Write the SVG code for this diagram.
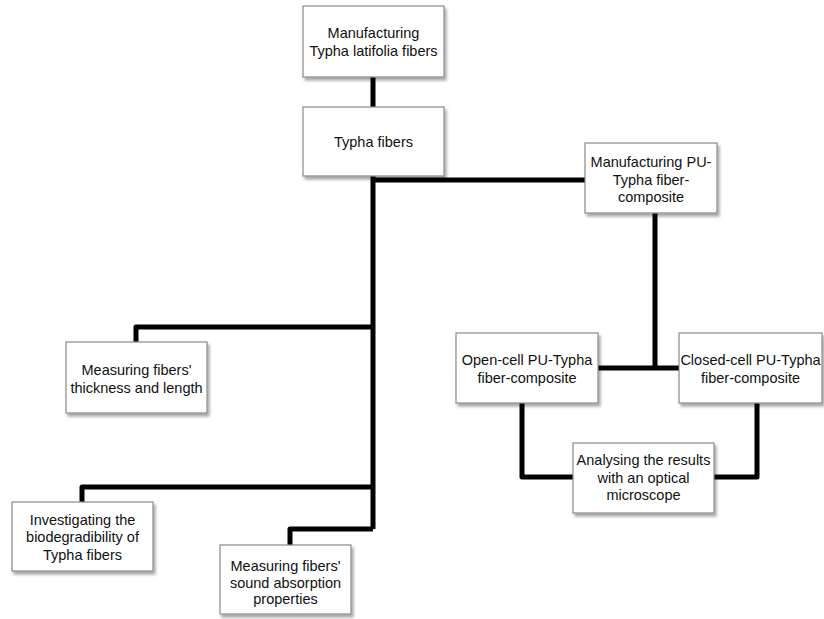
<svg xmlns="http://www.w3.org/2000/svg" width="824" height="619" viewBox="0 0 824 619">
<defs>
<filter id="sh" x="-10%" y="-10%" width="130%" height="140%">
<feDropShadow dx="2" dy="3" stdDeviation="1.5" flood-color="#000" flood-opacity="0.35"/>
</filter>
</defs>
<style>
.box{fill:#fff;stroke:#8a8a8a;stroke-width:1.2;filter:url(#sh)}
.t{font-family:"Liberation Sans",Arial,sans-serif;font-size:14.5px;fill:#111;text-anchor:middle}
.c{fill:none;stroke:#000;stroke-width:5;stroke-linejoin:round}
</style>
<rect width="824" height="619" fill="#fff"/>
<g id="connectors">
<path class="c" d="M373 77 V107"/>
<path class="c" d="M373 176 V529"/>
<path class="c" d="M373 180 H585"/>
<path class="c" d="M655 213 V368"/>
<path class="c" d="M598 368 H679"/>
<path class="c" d="M373 327 H136 V342"/>
<path class="c" d="M373 487 H82 V502"/>
<path class="c" d="M373 529 H290 V545"/>
<path class="c" d="M522 403 V477 H573"/>
<path class="c" d="M757 403 V477 H714"/>
</g>
<g id="n1">
<rect class="box" x="303" y="6" width="141" height="71"/>
<text class="t" x="373.5" y="38">Manufacturing</text>
<text class="t" x="373.5" y="56">Typha latifolia fibers</text>
</g>
<g id="n2">
<rect class="box" x="303" y="107" width="141" height="69"/>
<text class="t" x="373.5" y="147">Typha fibers</text>
</g>
<g id="n3">
<rect class="box" x="585" y="143" width="132" height="70"/>
<text class="t" x="651" y="167">Manufacturing PU-</text>
<text class="t" x="651" y="184.5">Typha fiber-</text>
<text class="t" x="651" y="202">composite</text>
</g>
<g id="n4">
<rect class="box" x="66" y="342" width="141" height="71"/>
<text class="t" x="136.5" y="375">Measuring fibers'</text>
<text class="t" x="136.5" y="392.5">thickness and length</text>
</g>
<g id="n5">
<rect class="box" x="456" y="333" width="142" height="70"/>
<text class="t" x="527" y="365">Open-cell PU-Typha</text>
<text class="t" x="527" y="382.5">fiber-composite</text>
</g>
<g id="n6">
<rect class="box" x="679" y="333" width="143" height="70"/>
<text class="t" x="750.5" y="365">Closed-cell PU-Typha</text>
<text class="t" x="750.5" y="382.5">fiber-composite</text>
</g>
<g id="n7">
<rect class="box" x="573" y="443" width="141" height="70"/>
<text class="t" x="643.5" y="465">Analysing the results</text>
<text class="t" x="643.5" y="482.5">with an optical</text>
<text class="t" x="643.5" y="500">microscope</text>
</g>
<g id="n8">
<rect class="box" x="12" y="502" width="141" height="69"/>
<text class="t" x="82.5" y="524.5">Investigating the</text>
<text class="t" x="82.5" y="542">biodegradibility of</text>
<text class="t" x="82.5" y="559.5">Typha fibers</text>
</g>
<g id="n9">
<rect class="box" x="220" y="545" width="131" height="69"/>
<text class="t" x="285.5" y="571">Measuring fibers'</text>
<text class="t" x="285.5" y="587.5">sound absorption</text>
<text class="t" x="285.5" y="604">properties</text>
</g>
</svg>
